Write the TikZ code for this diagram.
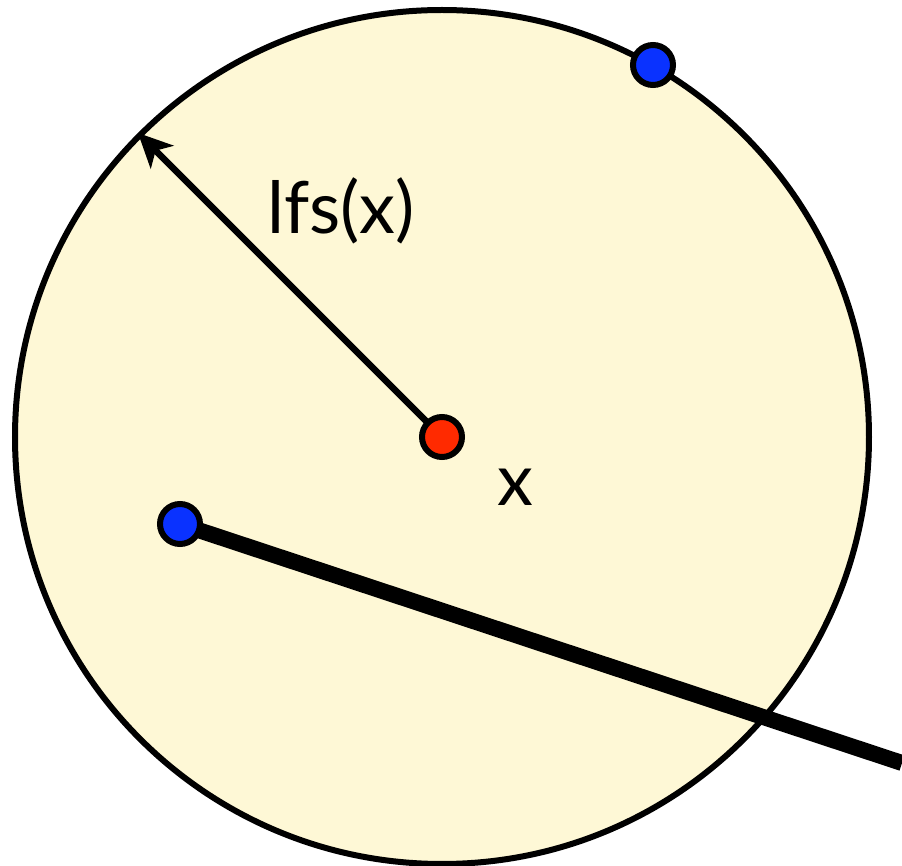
\documentclass[tikz,border=0pt]{standalone}
\usepackage{fontspec}
\setmainfont{Lato}
\usepackage{xcolor}
\usetikzlibrary{positioning, arrows.meta}
\definecolor{diskfill}{HTML}{FEF8D6}
\definecolor{centerred}{HTML}{FF2A00}
\definecolor{sampleblue}{HTML}{0A32FF}

\begin{document}
\begin{tikzpicture}[
  x=0.5pt, y=-0.5pt,
  every node/.style={font=\fontsize{36}{40}\selectfont},
  disk/.style={
    circle, draw=black, fill=diskfill, line width=3pt,
    minimum size=427pt, inner sep=0pt
  },
  dot/.style={
    circle, draw=black, line width=3pt,
    minimum size=20pt, inner sep=0pt
  },
  radius arrow/.style={-{Stealth[length=17pt, width=16pt, inset=4.5pt]}, line width=3.2pt},
  feature/.style={line width=8pt}
]
  \useasboundingbox (0,0) rectangle (902,866);
  \node[disk] (ball) at (442,437) {};

  \draw[radius arrow] (442,437) -- (ball.135);
  \draw[feature] (180,524) -- (902,763) coordinate (edgeend);

  \node[dot, fill=centerred] (x) at (442,437) {};
  \node[dot, fill=sampleblue] (p) at (180,524) {};
  \node[dot, fill=sampleblue] (q) at (653,65) {};

  \node (lfs) at (341,211) {lfs(x)};
  \node (xlabel) at (515,487) {x};
\end{tikzpicture}
\end{document}
